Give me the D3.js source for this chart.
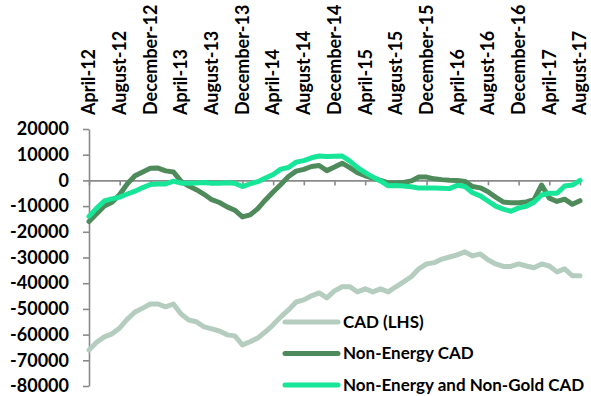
<!DOCTYPE html>
<html>
<head>
<meta charset="utf-8">
<script src="https://d3js.org/d3.v7.min.js"></script>
<style>
  body { margin: 0; background: #fff; }
  text { font-family: Lato, "Open Sans", sans-serif; font-weight: bold; fill: #000; }
</style>
</head>
<body>
<div id="chart"></div>
<script>
var width = 591, height = 396;
var margin = {top: 129, right: 11, bottom: 10, left: 89};

// monthly categories, April-12 .. August-17
var months = d3.timeMonth.range(new Date(2012, 3, 1), new Date(2017, 8, 1))
    .map(d3.timeFormat("%B-%y"));

var tickLabels = ["April-12", "August-12", "December-12", "April-13", "August-13", "December-13",
  "April-14", "August-14", "December-14", "April-15", "August-15", "December-15",
  "April-16", "August-16", "December-16", "April-17", "August-17"];

var yTicks = [20000, 10000, 0, -10000, -20000, -30000, -40000, -50000, -60000, -70000, -80000];

var cad = [-66000, -63000, -60900, -59700, -57400, -54000, -51200, -49700, -48100, -48100,
  -49200, -48100, -52000, -54300, -55000, -57000, -57800, -58600, -60100, -60500,
  -64000, -62800, -61300, -58900, -56200, -53100, -50400, -47300, -46500, -44900,
  -43800, -45700, -43000, -41400, -41400, -43400, -42200, -43400, -42200, -43400,
  -41400, -39500, -37500, -34400, -32500, -32000, -30600, -29800, -29000, -27800,
  -29400, -28600, -30900, -32500, -33500, -33500, -32500, -33300, -34000, -32500,
  -33300, -35600, -34400, -37100, -37100];

var nonEnergy = [-16000, -13000, -10000, -8500, -5500, -1300, 1800, 3300, 4700, 4800,
  3700, 3300, -400, -2200, -3600, -5400, -7500, -8600, -10300, -11600,
  -14200, -13400, -11000, -7600, -4500, -1600, 1500, 3600, 4300, 5400,
  5800, 3800, 5200, 6700, 5000, 3000, 1800, 900, 0, -1000,
  -1000, -800, -200, 1300, 1300, 600, 300, 100, 0, -400,
  -2400, -2900, -4400, -6500, -8400, -8700, -8700, -8400, -7500, -1800,
  -6900, -8200, -7300, -9300, -7900];

var nonGold = [-14000, -10800, -8000, -7200, -6500, -5300, -4200, -2800, -1600, -1400,
  -1400, -300, -1000, -1100, -1000, -800, -1100, -1100, -900, -1100,
  -2400, -1300, -500, 900, 2300, 4400, 5000, 7100, 7700, 8800,
  9500, 9300, 9400, 9500, 7500, 5000, 3000, 1300, -200, -2100,
  -2000, -2200, -2500, -3000, -3000, -3000, -3100, -3200, -1900, -2400,
  -4800, -6000, -8000, -10000, -11200, -12000, -10700, -10100, -8500, -5700,
  -5000, -5000, -2200, -1800, 0];

var seriesNames = ["CAD (LHS)", "Non-Energy CAD", "Non-Energy and Non-Gold CAD"];
var seriesColors = ["#b4cdbf", "#4f8a5b", "#17e597"];
var seriesData = [cad, nonEnergy, nonGold];

var svg = d3.select("#chart").append("svg")
    .attr("width", width)
    .attr("height", height);

var x = d3.scalePoint()
    .domain(months)
    .range([margin.left, width - margin.right]);

var y = d3.scaleLinear()
    .domain([-80000, 20000])
    .range([386, margin.top]);

// y axis
svg.append("g")
    .attr("transform", "translate(" + margin.left + ",0)")
    .call(d3.axisLeft(y).tickValues(yTicks).tickSize(6).tickSizeOuter(0).tickPadding(14)
      .tickFormat(function(d) { return String(d); }))
    .call(function(g) {
      g.select(".domain").attr("stroke", "#8a8a8a").attr("stroke-width", 1.6);
      g.selectAll(".tick line").attr("stroke", "#8a8a8a").attr("stroke-width", 1.6);
      g.selectAll(".tick text").attr("font-size", 18).attr("font-family", "Lato").attr("font-weight", "bold");
    });

// x axis on zero line, ticks only
svg.append("g")
    .attr("transform", "translate(0," + y(0) + ")")
    .call(d3.axisBottom(x).tickValues(tickLabels).tickSize(5).tickSizeOuter(0).tickFormat(""))
    .call(function(g) {
      g.select(".domain").attr("stroke", "#8a8a8a").attr("stroke-width", 1.6);
      g.selectAll(".tick line").attr("stroke", "#8a8a8a").attr("stroke-width", 1.6);
    });

// rotated category labels at top
svg.append("g")
    .selectAll("text")
    .data(tickLabels)
    .enter()
    .append("text")
    .attr("transform", function(d) { return "translate(" + x(d) + ",115) rotate(-90)"; })
    .attr("dy", "0.35em")
    .attr("text-anchor", "start")
    .attr("font-size", 18)
    .text(function(d) { return d; });

var line = d3.line()
    .x(function(d, i) { return x(months[i]); })
    .y(function(d) { return y(d); });

svg.selectAll(".series")
    .data(seriesData)
    .enter()
    .append("path")
    .attr("class", "series")
    .attr("d", line)
    .attr("fill", "none")
    .attr("stroke", function(d, i) { return seriesColors[i]; })
    .attr("stroke-width", 5)
    .attr("stroke-linejoin", "round")
    .attr("stroke-linecap", "round");

// legend
var legend = svg.selectAll(".legend")
    .data(seriesNames)
    .enter()
    .append("g")
    .attr("class", "legend")
    .attr("transform", function(d, i) { return "translate(285," + (322 + i * 31.5) + ")"; });

legend.append("line")
    .attr("x1", 0)
    .attr("x2", 53)
    .attr("stroke", function(d, i) { return seriesColors[i]; })
    .attr("stroke-width", 5)
    .attr("stroke-linecap", "round");

legend.append("text")
    .attr("x", 58)
    .attr("dy", "0.35em")
    .attr("font-size", 17)
    .text(function(d) { return d; });
</script>
</body>
</html>
